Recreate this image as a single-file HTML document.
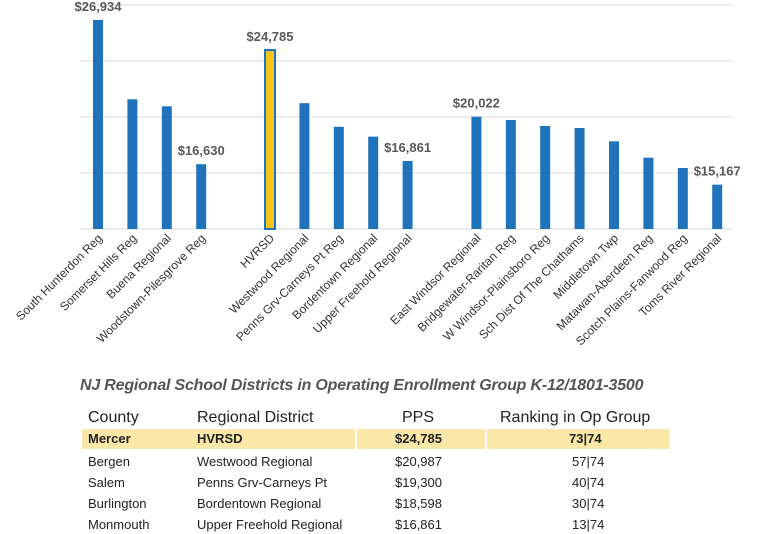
<!DOCTYPE html>
<html><head><meta charset="utf-8"><style>
body{margin:0;background:#fff;font-family:"Liberation Sans",sans-serif}
#wrap{position:relative;width:778px;height:534px;overflow:hidden}
svg text{font-family:"Liberation Sans",sans-serif}
.tbl{position:absolute;left:82px;top:406px;width:590px;font-size:13px;color:#222}
.row{position:absolute;left:0;height:20px;line-height:20px;width:590px}
.c{position:absolute;white-space:nowrap}
</style></head><body>
<div id="wrap">
<svg id="chart" width="778" height="370" style="position:absolute;left:0;top:0"></svg>
<div style="position:absolute;left:80px;top:377px;font-size:16px;font-weight:bold;font-style:italic;color:#555;letter-spacing:-0.2px">NJ Regional School Districts in Operating Enrollment Group K-12/1801-3500</div>
<div class="tbl">
 <div class="row" style="top:2px;font-size:16px">
  <span class="c" style="left:6px">County</span><span class="c" style="left:115px">Regional District</span><span class="c" style="left:320px">PPS</span><span class="c" style="left:418px">Ranking in Op Group</span></div>
 <div class="row" style="top:23px;font-weight:bold">
  <div style="position:absolute;left:0;top:0;width:273px;height:20px;background:#fbe8a8"></div>
  <div style="position:absolute;left:275px;top:0;width:128px;height:20px;background:#fbe8a8"></div>
  <div style="position:absolute;left:405px;top:0;width:182px;height:20px;background:#fbe8a8"></div>
  <span class="c" style="left:6px">Mercer</span><span class="c" style="left:115px">HVRSD</span><span class="c" style="left:313px">$24,785</span><span class="c" style="left:487px">73|74</span></div>
 <div class="row" style="top:46px"><span class="c" style="left:6px">Bergen</span><span class="c" style="left:115px">Westwood Regional</span><span class="c" style="left:313px">$20,987</span><span class="c" style="left:490px">57|74</span></div>
 <div class="row" style="top:67px"><span class="c" style="left:6px">Salem</span><span class="c" style="left:115px">Penns Grv-Carneys Pt</span><span class="c" style="left:313px">$19,300</span><span class="c" style="left:490px">40|74</span></div>
 <div class="row" style="top:88px"><span class="c" style="left:6px">Burlington</span><span class="c" style="left:115px">Bordentown Regional</span><span class="c" style="left:313px">$18,598</span><span class="c" style="left:490px">30|74</span></div>
 <div class="row" style="top:109px"><span class="c" style="left:6px">Monmouth</span><span class="c" style="left:115px">Upper Freehold Regional</span><span class="c" style="left:313px">$16,861</span><span class="c" style="left:490px">13|74</span></div>
</div>
</div>
<script>
const categories=["South Hunterdon Reg","Somerset Hills Reg","Buena Regional","Woodstown-Pilesgrove Reg",null,"HVRSD","Westwood Regional","Penns Grv-Carneys Pt Reg","Bordentown Regional","Upper Freehold Regional",null,"East Windsor Regional","Bridgewater-Raritan Reg","W Windsor-Plainsboro Reg","Sch Dist Of The Chathams","Middletown Twp","Matawan-Aberdeen Reg","Scotch Plains-Fanwood Reg","Toms River Regional"];
const values=[26934,21264,20764,16630,null,24785,20987,19300,18598,16861,null,20022,19786,19357,19214,18264,17093,16357,15167];
const labeled=["$26,934",null,null,"$16,630",null,"$24,785",null,null,null,"$16,861",null,"$20,022",null,null,null,null,null,null,"$15,167"];
const ticks=[12000,16000,20000,24000,28000];
const NS="http://www.w3.org/2000/svg";
const svg=document.getElementById('chart');
const y0=229,y1=5,vmin=12000,vmax=28000;
function y(v){return y0-(v-vmin)/(vmax-vmin)*(y0-y1);}
function x(i){return 98+i*34.4;}
function mk(t,a){const e=document.createElementNS(NS,t);for(const k in a)e.setAttribute(k,a[k]);svg.appendChild(e);return e;}
ticks.forEach(t=>{const l=mk('line',{x1:80,x2:733,y1:y(t),y2:y(t),stroke:'#d9d9d9','stroke-width':1});

});
categories.forEach((c,i)=>{if(c===null)return;const v=values[i];const hv=c==="HVRSD";
const b=mk('rect',{x:x(i)-5,y:y(v),width:10,height:y0-y(v),fill:hv?'#f7c519':'#1f73bb',stroke:hv?'#1f73bb':'none','stroke-width':hv?2:0});


const t=mk('text',{x:x(i)+5,y:239,'text-anchor':'end','font-size':12,fill:'#333',transform:`rotate(-45 ${x(i)+5} 239)`});t.textContent=c;


if(labeled[i]){let lx=x(i),ly=y(v)-9;
const L=mk('text',{x:lx,y:ly,'text-anchor':'middle','font-size':13,'font-weight':'bold',fill:'#595959'});L.textContent=labeled[i];

}
});
</script>
</body></html>
